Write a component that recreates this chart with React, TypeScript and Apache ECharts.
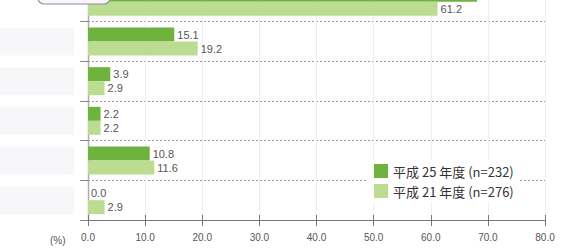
import React, { useEffect, useRef } from "react";
import * as echarts from "echarts";

const categories = ["項目1", "項目2", "項目3", "項目4", "項目5", "項目6"];
const seriesNames = ["平成 25 年度 (n=232)", "平成 21 年度 (n=276)"];
const valuesH25 = [68.1, 15.1, 3.9, 2.2, 10.8, 0.0];
const valuesH21 = [61.2, 19.2, 2.9, 2.2, 11.6, 2.9];
const xTicks = [0, 10, 20, 30, 40, 50, 60, 70, 80];

const SHIFT = 18;
const FONT = "Liberation Sans Narrow, Liberation Sans, sans-serif";

export default function App() {
  const ref = useRef<HTMLDivElement>(null);
  useEffect(() => {
    if (!ref.current) return;
    const chart = echarts.init(ref.current, undefined, { renderer: "svg" });
    const labelStyle = {
      show: true,
      position: "right" as const,
      distance: 3,
      fontSize: 11,
      color: "#555",
      fontFamily: FONT,
      formatter: (p: any) => Number(p.value).toFixed(1),
    };
    const baseGraphic: any[] = [
      {
        type: "text",
        left: 50,
        top: 235 + SHIFT,
        style: { text: "(%)", fontSize: 10, fill: "#555", fontFamily: FONT },
      },
      {
        type: "rect",
        shape: { x: 38, y: SHIFT - 22, width: 72, height: 26, r: 6 },
        style: { fill: "#f7f7fa", stroke: "#8a90a0", lineWidth: 1.2 },
        z: 100,
      },
    ];
    chart.setOption({
      animation: false,
      backgroundColor: "#fff",
      grid: { left: 88, right: 28, top: 0, bottom: 28, containLabel: false },
      xAxis: [
        {
          type: "value",
          min: xTicks[0],
          max: xTicks[xTicks.length - 1],
          interval: 10,
          axisLine: { show: true, lineStyle: { color: "#777", width: 1 } },
          axisTick: { show: true, length: 6, lineStyle: { color: "#777" } },
          axisLabel: {
            fontSize: 10,
            color: "#555",
            margin: 12,
            fontFamily: FONT,
            formatter: (v: number) => v.toFixed(1),
          },
          splitLine: { show: true, lineStyle: { color: "#eeeeee", width: 1 } },
        },
        {
          type: "value",
          position: "bottom",
          min: xTicks[0],
          max: xTicks[xTicks.length - 1],
          interval: 10,
          axisLine: { show: false },
          axisTick: { show: true, inside: true, length: 5, lineStyle: { color: "#777" } },
          axisLabel: { show: false },
          splitLine: { show: false },
        },
      ],
      yAxis: [
        {
          type: "category",
          inverse: true,
          data: categories,
          axisLine: { show: true, lineStyle: { color: "#555", width: 1.2 } },
          axisTick: { show: true, length: 8, lineStyle: { color: "#888" } },
          axisLabel: { show: false },
          splitLine: { show: true, lineStyle: { color: "#999", type: [2, 2], width: 1 } },
        },
        {
          type: "category",
          inverse: true,
          position: "right",
          data: categories,
          axisLine: { show: true, lineStyle: { color: "#aaa", width: 1 } },
          axisTick: { show: false },
          axisLabel: { show: false },
          splitLine: { show: false },
        },
      ],
      legend: {
        orient: "vertical",
        left: 368,
        top: 160 + SHIFT,
        padding: [4, 6, 4, 6],
        backgroundColor: "#fff",
        itemWidth: 14,
        itemHeight: 14,
        itemGap: 6,
        icon: "rect",
        textStyle: { fontSize: 13, color: "#333", fontFamily: "Noto Sans CJK JP, sans-serif" },
        data: seriesNames,
      },
      series: [
        {
          name: seriesNames[0],
          type: "bar",
          data: valuesH25,
          barWidth: 14,
          barGap: "0%",
          itemStyle: { color: "#6fb33f" },
          label: labelStyle,
        },
        {
          name: seriesNames[1],
          type: "bar",
          data: valuesH21,
          barWidth: 14,
          barGap: "0%",
          itemStyle: { color: "#bcdd91" },
          label: labelStyle,
        },
      ],
      graphic: baseGraphic,
    });
    const blocks: any[] = [];
    categories.forEach((c) => {
      const y = chart.convertToPixel({ yAxisIndex: 0 }, c) as number;
      if (y > 20 + SHIFT) {
        blocks.push({
          type: "rect",
          shape: { x: 0, y: y - 14, width: 74, height: 28 },
          style: { fill: "#f7f7f9" },
          z: -1,
        });
      }
    });
    chart.setOption({ graphic: [...baseGraphic, ...blocks] }, { replaceMerge: ["graphic"] });
    return () => chart.dispose();
  }, []);
  return (
    <div style={{ position: "absolute", left: 0, top: 0, width: 573, height: 248, overflow: "hidden", background: "#fff" }}>
      <div ref={ref} style={{ position: "absolute", left: 0, top: -SHIFT, width: 573, height: 248 + SHIFT }} />
    </div>
  );
}
